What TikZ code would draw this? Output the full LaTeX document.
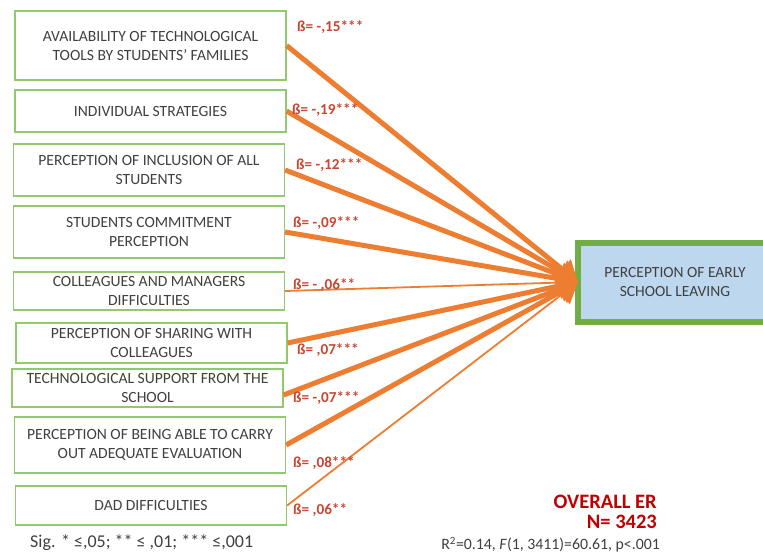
\documentclass[tikz,border=0pt]{standalone}
\usepackage{fontspec}
\setmainfont{Carlito}
\usetikzlibrary{arrows.meta}
\definecolor{boxgreen}{RGB}{146,200,110}
\definecolor{outgreen}{RGB}{112,173,71}
\definecolor{outblue}{RGB}{189,215,238}
\definecolor{txtgray}{RGB}{64,64,64}
\definecolor{betared}{RGB}{200,70,50}
\definecolor{darkred}{RGB}{192,0,0}
\definecolor{pathorange}{RGB}{237,125,49}

\begin{document}
\begin{tikzpicture}[x=1pt, y=-1pt,
  factor/.style={draw=boxgreen, line width=1.2pt, minimum width=271pt, inner sep=0pt,
    align=center, text=txtgray, font=\fontsize{15.6}{19}\selectfont},
  outcome/.style={fill=outblue, minimum width=240pt, minimum height=73pt, outer sep=3pt},
  outborder/.style={draw=outgreen, line width=6pt, line join=miter},
  outtext/.style={align=center, text=txtgray, font=\fontsize{15.5}{19}\selectfont},
  beta/.style={anchor=west, inner sep=0pt, text=betared, font=\bfseries\fontsize{15.2}{18}\selectfont},
  strongpath/.style={draw=pathorange, line width=5pt, -{Triangle[length=20pt,width=25pt]}},
  weakpath/.style={draw=pathorange, line width=1.8pt, -{Triangle[length=20pt,width=25pt]}}
]
\useasboundingbox (0,0) rectangle (763,554);
\clip (0,0) rectangle (763,554);

% Predictors
\node[factor, minimum height=69pt] (b1) at (150.5,45.5) {AVAILABILITY OF TECHNOLOGICAL\\TOOLS BY STUDENTS' FAMILIES};
\node[factor, minimum height=42pt] (b2) at (150.5,111) {INDIVIDUAL STRATEGIES};
\node[factor, minimum height=52pt] (b3) at (149,170) {PERCEPTION OF INCLUSION OF ALL\\STUDENTS};
\node[factor, minimum height=52pt] (b4) at (149,232) {STUDENTS COMMITMENT\\PERCEPTION};
\node[factor, minimum height=38pt] (b5) at (149,291) {COLLEAGUES AND MANAGERS\\DIFFICULTIES};
\node[factor, minimum height=40pt] (b6) at (151.5,343) {PERCEPTION OF SHARING WITH\\COLLEAGUES};
\node[factor, minimum height=38pt] (b7) at (147.5,388) {TECHNOLOGICAL SUPPORT FROM THE\\SCHOOL};
\node[factor, minimum height=56pt] (b8) at (150,445) {PERCEPTION OF BEING ABLE TO CARRY\\OUT ADEQUATE EVALUATION};
\node[factor, minimum height=39pt] (b9) at (151,505.5) {DAD DIFFICULTIES};

% Outcome (runs off the right edge)
\node[outcome] (out) at (701,282) {};
\draw[outborder] (out.north east) -- (out.north west) -- (out.south west) -- (out.south east);
\node[outtext] (outlbl) at (675,282) {PERCEPTION OF EARLY\\SCHOOL LEAVING};

% Paths
\draw[strongpath] (b1.east) -- (out.west);
\draw[strongpath] (b2.east) -- (out.west);
\draw[strongpath] (b3.east) -- (out.west);
\draw[strongpath] (b4.east) -- (out.west);
\draw[weakpath] (b5.east) -- (out.west);
\draw[strongpath] (b6.east) -- (out.west);
\draw[strongpath] ([yshift=-7pt]b7.east) -- (out.west);
\draw[strongpath] (b8.east) -- (out.west);
\draw[weakpath] (b9.east) -- (out.west);

% Coefficients
\node[beta] (c1) at (297,27) {ß= -,15***};
\node[beta] (c2) at (292,110) {ß= -,19***};
\node[beta] (c3) at (296,165) {ß= -,12***};
\node[beta] (c4) at (293,223) {ß= -,09***};
\node[beta] (c5) at (293,285) {ß= - ,06**};
\node[beta] (c6) at (297,350) {ß= ,07***};
\node[beta] (c7) at (293,398) {ß= -,07***};
\node[beta] (c8) at (293,463) {ß= ,08***};
\node[beta] (c9) at (293,510) {ß= ,06**};

% Notes
\node[anchor=west, inner sep=0pt, text=txtgray, font=\fontsize{18}{21}\selectfont] (sig) at (30,543) {Sig. * ≤,05; ** ≤ ,01; *** ≤,001};
\node[anchor=east, inner sep=0pt, text=darkred, font=\bfseries\fontsize{20.5}{24}\selectfont] (overall) at (657,502) {OVERALL ER};
\node[anchor=east, inner sep=0pt, text=darkred, font=\bfseries\fontsize{20.5}{24}\selectfont] (size) at (657,522) {N= 3423};
\node[anchor=east, inner sep=0pt, text=txtgray, font=\fontsize{15.8}{18}\selectfont] (fit) at (660,545) {R\textsuperscript{2}=0.14, \textit{F}(1, 3411)=60.61, p<.001};
\end{tikzpicture}
\end{document}
